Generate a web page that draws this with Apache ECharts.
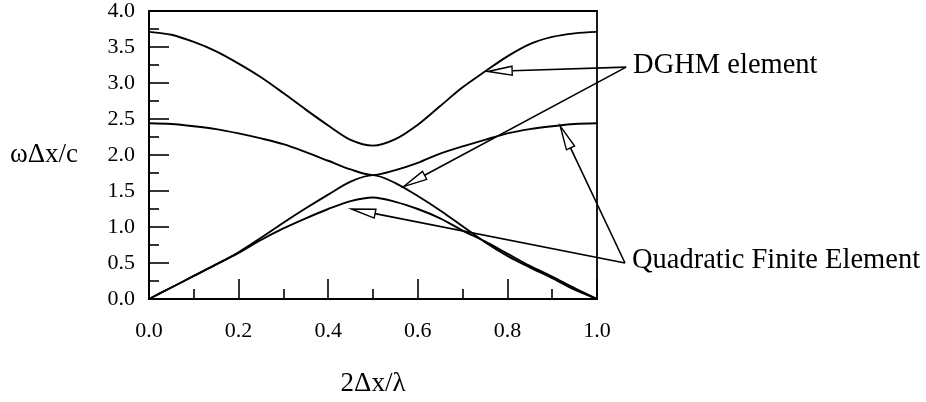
<!DOCTYPE html>
<html>
<head>
<meta charset="utf-8">
<script src="https://cdn.jsdelivr.net/npm/echarts@6/dist/echarts.min.js"></script>
<style>
html,body{margin:0;padding:0;background:#fff;}
#chart{width:926px;height:402px;}
</style>
</head>
<body>
<div id="chart"></div>
<script>
// x positions (2Δx/λ)
const xValues = [0, 0.05, 0.1, 0.15, 0.2, 0.25, 0.3, 0.35, 0.4, 0.45, 0.5, 0.55, 0.6, 0.65, 0.7, 0.75, 0.8, 0.85, 0.9, 0.95, 1.0];
// DGHM element, optical branch
const dghmOptical = [3.71, 3.67, 3.57, 3.44, 3.27, 3.08, 2.86, 2.63, 2.41, 2.21, 2.13, 2.22, 2.42, 2.68, 2.94, 3.16, 3.37, 3.54, 3.64, 3.69, 3.71];
// DGHM element, acoustic branch
const dghmAcoustic = [0, 0.16, 0.32, 0.48, 0.65, 0.85, 1.06, 1.26, 1.45, 1.63, 1.72, 1.61, 1.43, 1.23, 1.01, 0.79, 0.60, 0.44, 0.29, 0.13, 0];
// Quadratic finite element, optical branch
const quadOptical = [2.44, 2.43, 2.40, 2.36, 2.30, 2.23, 2.15, 2.04, 1.92, 1.80, 1.72, 1.79, 1.89, 2.02, 2.12, 2.21, 2.30, 2.36, 2.40, 2.43, 2.44];
// Quadratic finite element, acoustic branch
const quadAcoustic = [0, 0.16, 0.32, 0.48, 0.64, 0.82, 0.98, 1.12, 1.25, 1.36, 1.41, 1.35, 1.25, 1.12, 0.95, 0.80, 0.63, 0.46, 0.31, 0.15, 0];

const xTickLabels = ['0.0', '0.2', '0.4', '0.6', '0.8', '1.0'];
const yTickLabels = ['0.0', '0.5', '1.0', '1.5', '2.0', '2.5', '3.0', '3.5', '4.0'];

// annotation labels and the curve points their arrows point at
const annotationLabels = ['DGHM element', 'Quadratic Finite Element'];
const annotationAnchors = [[1.065, 3.22], [1.0625, 0.50]];
const dghmArrowTips = [[0.757, 3.16], [0.568, 1.56]];
const quadArrowTips = [[0.918, 2.40], [0.452, 1.25]];

const FONT = '"Liberation Serif", "Times New Roman", serif';

function pairs(ys) { return xValues.map((x, i) => [x, ys[i]]); }

const arrowData = [];
dghmArrowTips.forEach(t => arrowData.push([t[0], t[1], annotationAnchors[0][0], annotationAnchors[0][1]]));
quadArrowTips.forEach(t => arrowData.push([t[0], t[1], annotationAnchors[1][0], annotationAnchors[1][1]]));

const labelData = annotationAnchors.map((a, i) => [a[0], a[1], i]);

const lineStyle = { color: '#000', width: 1.9 };
function curve(name, ys) {
  return { name, type: 'line', data: pairs(ys), showSymbol: false, symbol: 'none', smooth: 0.3,
           lineStyle, emphasis: { disabled: true }, silent: true };
}

const chart = echarts.init(document.getElementById('chart'));
chart.setOption({
  animation: false,
  backgroundColor: '#fff',
  grid: { left: 149, top: 11, width: 448, height: 290, show: true, borderColor: '#000', borderWidth: 1.8, backgroundColor: 'transparent' },
  xAxis: {
    type: 'value', min: 0, max: 1, interval: 0.2,
    name: '2\u0394x/\u03BB', nameLocation: 'middle', nameGap: 71,
    nameTextStyle: { fontFamily: FONT, fontSize: 27, color: '#000' },
    axisLine: { lineStyle: { color: '#000', width: 1.8 } },
    axisTick: { inside: true, length: 20, lineStyle: { color: '#000', width: 1.6 } },
    minorTick: { show: true, splitNumber: 2, length: 10, lineStyle: { color: '#000', width: 1.6 } },
    splitLine: { show: false },
    axisLabel: { fontFamily: FONT, fontSize: 22, color: '#000', margin: 21,
      formatter: v => xTickLabels[Math.round(v / 0.2)] }
  },
  yAxis: {
    type: 'value', min: 0, max: 4, interval: 0.5,
    name: '\u03C9\u0394x/c', nameLocation: 'middle', nameRotate: 0, nameGap: 71,
    nameTextStyle: { fontFamily: FONT, fontSize: 27, color: '#000' },
    axisLine: { lineStyle: { color: '#000', width: 1.8 } },
    axisTick: { inside: true, length: 20, lineStyle: { color: '#000', width: 1.6 } },
    minorTick: { show: true, splitNumber: 2, length: 10, lineStyle: { color: '#000', width: 1.6 } },
    splitLine: { show: false },
    axisLabel: { fontFamily: FONT, fontSize: 22, color: '#000', margin: 14, padding: [4, 0, 0, 0],
      formatter: v => yTickLabels[Math.round(v / 0.5)] }
  },
  series: [
    curve('DGHM optical', dghmOptical),
    curve('DGHM acoustic', dghmAcoustic),
    curve('Quadratic optical', quadOptical),
    curve('Quadratic acoustic', quadAcoustic),
    {
      type: 'custom', name: 'arrows', clip: false, silent: true, z: 5,
      data: arrowData,
      encode: { x: [0, 2], y: [1, 3] },
      renderItem: function (params, api) {
        const tip = api.coord([api.value(0), api.value(1)]);
        const tail = api.coord([api.value(2), api.value(3)]);
        const dx = tail[0] - tip[0], dy = tail[1] - tip[1];
        const len = Math.sqrt(dx * dx + dy * dy);
        const ux = dx / len, uy = dy / len;
        const hl = 24, hw = 4.5;
        const bx = tip[0] + ux * hl, by = tip[1] + uy * hl;
        const px = -uy, py = ux;
        return {
          type: 'group',
          children: [
            { type: 'line', shape: { x1: bx, y1: by, x2: tail[0], y2: tail[1] },
              style: { stroke: '#000', lineWidth: 1.6 } },
            { type: 'polygon', shape: { points: [[tip[0], tip[1]], [bx + px * hw, by + py * hw], [bx - px * hw, by - py * hw]] },
              style: { fill: '#fff', stroke: '#000', lineWidth: 1.4 } }
          ]
        };
      }
    },
    {
      type: 'custom', name: 'labels', clip: false, silent: true, z: 6,
      data: labelData,
      encode: { x: 0, y: 1 },
      renderItem: function (params, api) {
        const p = api.coord([api.value(0), api.value(1)]);
        const idx = api.value(2);
        return {
          type: 'text',
          style: { x: p[0] + 7, y: p[1] - 2, text: annotationLabels[idx], fill: '#000',
                   font: '28.5px ' + FONT, align: 'left', verticalAlign: 'middle' }
        };
      }
    }
  ]
});
</script>
</body>
</html>
